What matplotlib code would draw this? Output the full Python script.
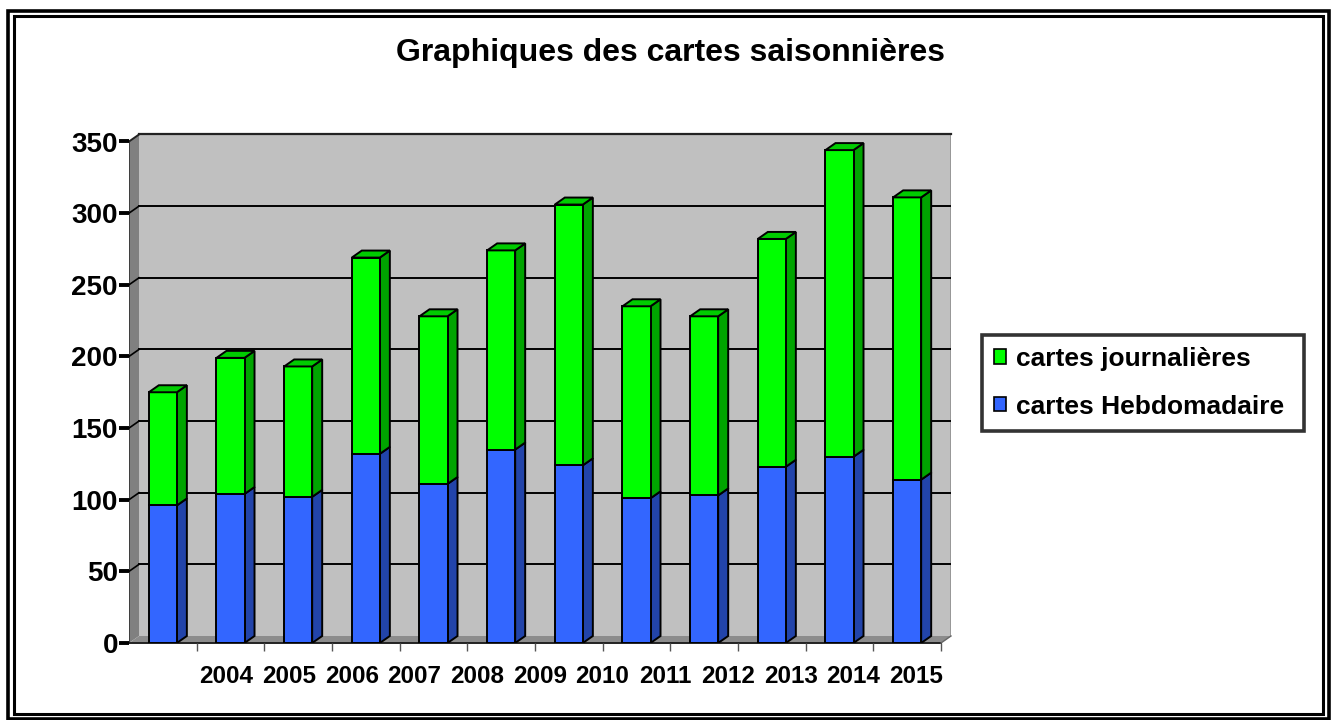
import numpy as np
import matplotlib
matplotlib.use("Agg")
import matplotlib.pyplot as plt
from matplotlib.patches import Polygon, Rectangle, Patch

plt.rcParams['font.family'] = ['Liberation Sans', 'DejaVu Sans']
plt.rcParams['font.weight'] = 'bold'

# ---- data ----
years = ['2004', '2005', '2006', '2007', '2008', '2009', '2010', '2011', '2012', '2013', '2014', '2015']
hebdo = [96, 104, 102, 132, 111, 135, 124, 101, 103, 123, 130, 114]
journ = [79, 95, 91, 137, 117, 139, 182, 134, 125, 159, 214, 197]
yticks = [0, 50, 100, 150, 200, 250, 300, 350]
title = 'Graphiques des cartes saisonnières'
labels = ['cartes journalières', 'cartes Hebdomadaire']

green_f, green_s, green_t = '#00FF00', '#00A400', '#00CC00'
blue_f, blue_s = '#3366FF', '#2244AA'

W, H = 1333, 720
fig = plt.figure(figsize=(W / 100, H / 100), dpi=100)

# axes placement (pixels)
left_px, right_px = 129, 951
bot_px, top_px = 643, 134.5
ax = fig.add_axes([left_px / W, 1 - bot_px / H, (right_px - left_px) / W, (bot_px - top_px) / H])

n = len(years)
x = np.arange(n)
cat_px = 67.6
dx = 10 / cat_px           # depth offset in data x
ymax = 350
dy = 7 / ((bot_px - top_px - 7) / ymax)  # depth offset in data y
ax.set_xlim(-0.5, n - 0.5 + dx)
ax.set_ylim(0, ymax + dy)
for s in ax.spines.values():
    s.set_visible(False)
ax.patch.set_visible(False)

x0, x1 = -0.5, n - 0.5
# back wall
ax.add_patch(Polygon([(x0 + dx, dy), (x1 + dx, dy), (x1 + dx, ymax + dy), (x0 + dx, ymax + dy)],
                     closed=True, facecolor='#C0C0C0', edgecolor='none', zorder=0))
ax.plot([x1 + dx, x1 + dx], [dy, ymax + dy], color='#909090', lw=1.2, zorder=1)
ax.plot([x0 + dx, x1 + dx], [ymax + dy, ymax + dy], color='#222222', lw=1.6, zorder=1, clip_on=False)
# left wall
ax.add_patch(Polygon([(x0, 0), (x0 + dx, dy), (x0 + dx, ymax + dy), (x0, ymax)],
                     closed=True, facecolor='#808080', edgecolor='none', zorder=0.5, clip_on=False))
ax.plot([x0, x0], [0, ymax], color='#333333', lw=1.2, zorder=1.5)
ax.plot([x0, x0 + dx], [ymax, ymax + dy], color='#222222', lw=1.4, zorder=1.5, clip_on=False)
# floor
ax.add_patch(Polygon([(x0, 0), (x1, 0), (x1 + dx, dy), (x0 + dx, dy)],
                     closed=True, facecolor='#8C8C8C', edgecolor='none', zorder=0.5, clip_on=False))
ax.plot([x0, x1], [0, 0], color='#222222', lw=1.4, zorder=1.5, clip_on=False)
ax.plot([x1, x1 + dx], [0, dy], color='#666666', lw=1.0, zorder=1.5, clip_on=False)
# gridlines
for v in yticks[1:-1]:
    ax.plot([x0 + dx, x1 + dx], [v + dy, v + dy], color='black', lw=1.4, zorder=1)
    ax.plot([x0, x0 + dx], [v, v + dy], color='black', lw=1.2, zorder=1.5)

# bars
w = 28 / cat_px
bottoms = np.array(hebdo)
ax.bar(x, hebdo, width=w, color=blue_f, edgecolor='black', linewidth=1.4, zorder=3)
ax.bar(x, journ, bottom=bottoms, width=w, color=green_f, edgecolor='black', linewidth=1.4, zorder=3)
tops = bottoms + np.array(journ)
for xi, b, t in zip(x, bottoms, tops):
    r = xi + w / 2
    l = xi - w / 2
    ax.add_patch(Polygon([(r, 0), (r + dx, dy), (r + dx, b + dy), (r, b)], closed=True,
                         facecolor=blue_s, edgecolor='black', lw=1.4, zorder=2.9))
    ax.add_patch(Polygon([(r, b), (r + dx, b + dy), (r + dx, t + dy), (r, t)], closed=True,
                         facecolor=green_s, edgecolor='black', lw=1.4, zorder=2.9))
    ax.add_patch(Polygon([(l, t), (r, t), (r + dx, t + dy), (l + dx, t + dy)], closed=True,
                         facecolor=green_t, edgecolor='black', lw=1.4, zorder=3.1))

# y axis ticks
ax.set_yticks(yticks)
ax.set_yticklabels([str(v) for v in yticks], fontsize=20, fontweight='bold')
ax.tick_params(axis='y', direction='out', length=7, width=2.8, color='black', pad=1)

# x axis: tick marks at boundaries, labels as in the reference
ax.set_xticks(np.arange(n) + 0.5)
ax.tick_params(axis='x', which='major', direction='out', length=6, width=1.0, color='#555555',
               labelbottom=False)
lab_pos = np.linspace(0.94, 11.13, n)
ax.set_xticks(lab_pos, minor=True)
ax.set_xticklabels(years, minor=True, fontsize=17.5, fontweight='bold')
ax.tick_params(axis='x', which='minor', length=0, pad=16)

# title
fig.text(670.5 / W, 1 - 53 / H, title, ha='center', va='center', fontsize=23, fontweight='bold')

# legend
handles = [Patch(facecolor=green_f, edgecolor='black', lw=1.2),
           Patch(facecolor=blue_f, edgecolor='black', lw=1.2)]
leg = fig.legend(handles, labels, loc='upper left',
                 bbox_to_anchor=(982 / W, 1 - 430 / H, (1304 - 982) / W, (430 - 335) / H),
                 mode='expand', prop={'size': 19, 'weight': 'bold'}, frameon=True, fancybox=False,
                 handlelength=0.45, handleheight=0.45, handletextpad=0.4, labelspacing=0.9,
                 borderpad=0.45, borderaxespad=0)
leg.get_frame().set_edgecolor('black')
leg.get_frame().set_linewidth(2.6)

# double frame around figure
fig.add_artist(Rectangle((8 / W, 1 - 719 / H), (1329 - 8) / W, (719 - 11) / H,
                         transform=fig.transFigure, fill=False, edgecolor='black', lw=2.6))
fig.add_artist(Rectangle((14 / W, 1 - 714 / H), (1323 - 14) / W, (714 - 16) / H,
                         transform=fig.transFigure, fill=False, edgecolor='black', lw=2.2))

fig.savefig('out.png', dpi=100)
